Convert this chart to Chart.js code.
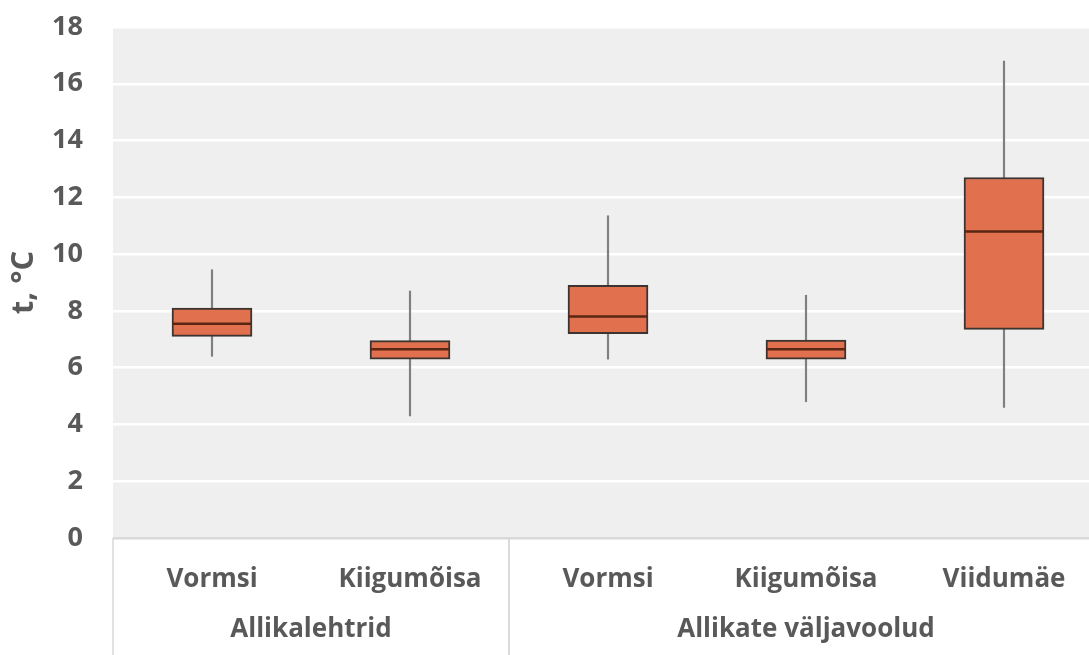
<!DOCTYPE html>
<html>
<head>
<meta charset="utf-8">
<script src="https://cdn.jsdelivr.net/npm/chart.js@4.4.1/dist/chart.umd.min.js"></script>
<style>
  html, body { margin: 0; padding: 0; background: #fff; overflow: hidden; }
  #wrap { width: 1089px; height: 655px; overflow: hidden; position: relative; }
  #chart { position: absolute; left: 0; top: 0; }
</style>
</head>
<body>
<div id="wrap"><canvas id="chart" width="1103" height="655"></canvas></div>
<script>
// andmed (loetud jooniselt)
const categories = ['Vormsi', 'Kiigumõisa', 'Vormsi', 'Kiigumõisa', 'Viidumäe'];
const groups = ['Allikalehtrid', 'Allikate väljavoolud'];
const groupSizes = [2, 3];
const minVals = [6.4, 4.3, 6.3, 4.8, 4.6];
const q1Vals = [7.1, 6.3, 7.2, 6.3, 7.35];
const medianVals = [7.55, 6.65, 7.8, 6.65, 10.8];
const q3Vals = [8.1, 6.95, 8.9, 6.97, 12.7];
const maxVals = [9.45, 8.7, 11.35, 8.55, 16.8];
const yTicks = [0, 2, 4, 6, 8, 10, 12, 14, 16, 18];

const textColor = '#595959';
const fontFamily = '"Open Sans", sans-serif';

const whiskerData = minVals.map((v, i) => [v, maxVals[i]]);
const boxData = q1Vals.map((v, i) => [v, q3Vals[i]]);

// taust, eraldusjooned ja rühmade nimed
const axisExtras = {
  id: 'axisExtras',
  beforeDraw(chart) {
    const { ctx, chartArea } = chart;
    ctx.save();
    ctx.fillStyle = '#efefef';
    ctx.fillRect(chartArea.left, chartArea.top, chartArea.right - chartArea.left, chartArea.bottom - chartArea.top);
    ctx.restore();
  },
  afterDraw(chart) {
    const { ctx, chartArea } = chart;
    const x = chart.scales.x;
    const half = (x.getPixelForValue(1) - x.getPixelForValue(0)) / 2;
    ctx.save();
    ctx.strokeStyle = '#d9d9d9';
    ctx.lineWidth = 1.5;
    ctx.fillStyle = textColor;
    ctx.font = 'bold 26px ' + fontFamily;
    ctx.textAlign = 'center';
    ctx.textBaseline = 'middle';
    let start = 0;
    groups.forEach((name, g) => {
      const end = start + groupSizes[g] - 1;
      const left = x.getPixelForValue(start) - half;
      const right = x.getPixelForValue(end) + half;
      ctx.beginPath();
      ctx.moveTo(left, chartArea.bottom);
      ctx.lineTo(left, chart.height);
      ctx.moveTo(right, chartArea.bottom);
      ctx.lineTo(right, chart.height);
      ctx.stroke();
      ctx.fillText(name, (left + right) / 2, 630);
      start = end + 1;
    });
    ctx.restore();
  }
};

new Chart(document.getElementById('chart'), {
  type: 'bar',
  data: {
    labels: categories,
    datasets: [
      {
        label: 'median',
        type: 'line',
        data: medianVals,
        showLine: false,
        pointStyle: 'line',
        pointRadius: 40,
        pointHoverRadius: 40,
        pointBorderColor: '#5a2614',
        pointBorderWidth: 2.5,
        order: 1
      },
      {
        label: 'box',
        data: boxData,
        backgroundColor: '#e0704e',
        borderColor: '#3d3430',
        borderWidth: 2,
        borderSkipped: false,
        barThickness: 80,
        grouped: false,
        order: 2
      },
      {
        label: 'whisker',
        data: whiskerData,
        backgroundColor: '#7f7f7f',
        borderWidth: 0,
        barThickness: 1.5,
        grouped: false,
        order: 3
      }
    ]
  },
  options: {
    responsive: false,
    animation: false,
    events: [],
    layout: { padding: 0, autoPadding: false },
    plugins: {
      legend: { display: false },
      tooltip: { enabled: false }
    },
    scales: {
      x: {
        offset: true,
        grid: { display: false, drawTicks: false },
        border: { display: false },
        ticks: {
          color: textColor,
          padding: 26,
          font: { family: fontFamily, size: 26, weight: 'bold' },
          maxRotation: 0,
          autoSkip: false
        },
        afterFit(scale) {
          scale.height = 117;
          scale.paddingLeft = 0;
          scale.paddingRight = 0;
        }
      },
      y: {
        min: 0,
        max: 18,
        afterBuildTicks(scale) { scale.ticks = yTicks.map(v => ({ value: v })); },
        grid: {
          color: ctx => ctx.tick && ctx.tick.value === 0 ? '#d9d9d9' : '#ffffff',
          lineWidth: 2.5,
          drawTicks: false
        },
        border: { display: false },
        ticks: {
          color: textColor,
          padding: 30,
          font: { family: fontFamily, size: 27, weight: 'bold' }
        },
        title: {
          display: true,
          text: 't, °C',
          color: textColor,
          font: { family: fontFamily, size: 31, weight: 'bold' },
          padding: { top: 6, bottom: 0 }
        },
        afterFit(scale) {
          scale.width = 113;
          scale.paddingTop = 27;
          scale.paddingBottom = 0;
        }
      }
    }
  },
  plugins: [axisExtras]
});
</script>
</body>
</html>
